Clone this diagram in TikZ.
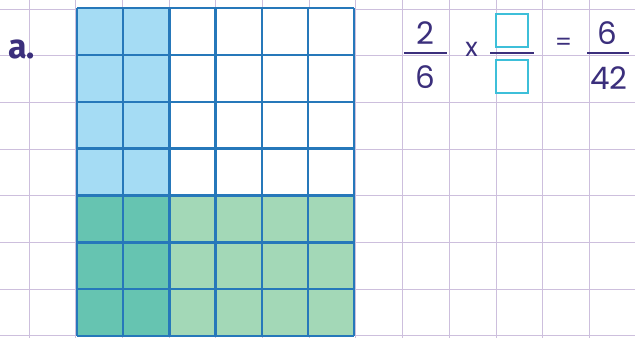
\documentclass[tikz,border=0pt]{standalone}
\usepackage{fontspec}
\setmainfont{Poppins}
\newfontfamily\labfont{Fira Sans}
\definecolor{gridc}{HTML}{CDBFDD}
\definecolor{boxline}{HTML}{2678BA}
\definecolor{lblue}{HTML}{A5DCF4}
\definecolor{dteal}{HTML}{66C4B1}
\definecolor{lgreen}{HTML}{A3D8B7}
\definecolor{ink}{HTML}{3B2F7C}
\definecolor{cyanbox}{HTML}{3DBFD9}
\tikzset{
  bggrid/.style={draw=gridc, line width=1pt},
  cellline/.style={draw=boxline, line width=2.4pt},
  numtxt/.style={text=ink, inner sep=0pt, font=\fontsize{31}{31}\selectfont},
  fracbar/.style={draw=ink, line width=2.4pt},
  ansbox/.style={draw=cyanbox, line width=2pt}
}
\begin{document}
\begin{tikzpicture}[x=1pt,y=-1pt]
\useasboundingbox (0,0) rectangle (635,338);
\fill[white] (0,0) rectangle (635,338);
% background grid
\foreach \i in {0,...,12} {
  \draw[bggrid] ({29.3+46.67*\i},0) -- ({29.3+46.67*\i},338);
}
\foreach \j in {0,...,7} {
  \draw[bggrid] (0,{9+46.67*\j}) -- (635,{9+46.67*\j});
}
% fills
\def\cx{46.2}
\def\cy{46.86}
\fill[white] (77,8) rectangle ({77+6*\cx},{8+7*\cy});
\fill[lblue] (77,8) rectangle ({77+2*\cx},{8+4*\cy});
\fill[dteal] (77,{8+4*\cy}) rectangle ({77+2*\cx},{8+7*\cy});
\fill[lgreen] ({77+2*\cx},{8+4*\cy}) rectangle ({77+6*\cx},{8+7*\cy});
% cell lines
\foreach \i in {0,...,6} {
  \draw[cellline] ({77+\i*\cx},8) -- ({77+\i*\cx},{8+7*\cy});
}
\foreach \j in {0,...,7} {
  \draw[cellline] (77,{8+\j*\cy}) -- ({77+6*\cx},{8+\j*\cy});
}
% label
\node[numtxt, anchor=base west, font=\labfont\fontsize{34}{34}\selectfont\bfseries] (lab) at (8,58) {a.};
% fraction 2/6
\node[numtxt, anchor=base] (n1) at (425.5,44) {2};
\node[numtxt, anchor=base] (d1) at (425.5,88) {6};
\coordinate (b1l) at (404,53);
\coordinate (b1r) at (447,53);
\draw[fracbar] (b1l) -- (b1r);
\node[numtxt, anchor=center, font=\fontsize{26}{26}\selectfont] (times) at (471.5,49) {x};
% unknown fraction
\node[ansbox, minimum width=32pt, minimum height=33pt, inner sep=0pt] (n2) at (512,30) {};
\node[ansbox, minimum width=32pt, minimum height=33pt, inner sep=0pt] (d2) at (512,76) {};
\coordinate (b2l) at (490,53);
\coordinate (b2r) at (534,53);
\draw[fracbar] (b2l) -- (b2r);
\node[numtxt, anchor=center, font=\fontsize{24}{24}\selectfont] (eq) at (563.5,44) {=};
% fraction 6/42
\node[numtxt, anchor=base] (n3) at (607,44) {6};
\node[numtxt, anchor=base] (d3) at (609,89) {42};
\coordinate (b3l) at (587,53);
\coordinate (b3r) at (629,53);
\draw[fracbar] (b3l) -- (b3r);
\end{tikzpicture}
\end{document}
